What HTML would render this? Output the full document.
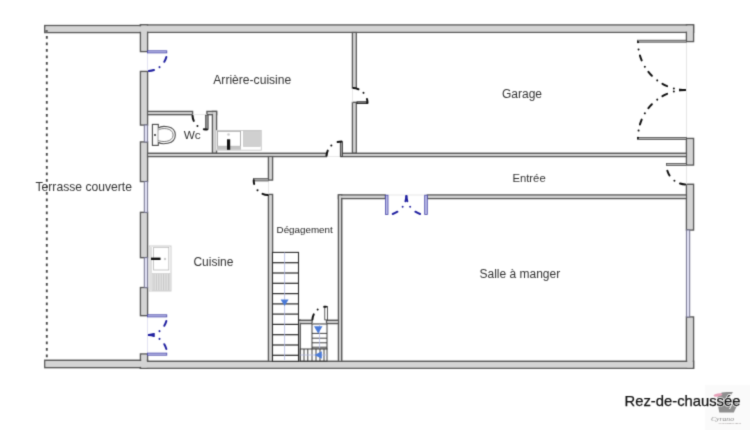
<!DOCTYPE html>
<html><head><meta charset="utf-8"><style>
html,body{margin:0;padding:0;background:#fff;width:750px;height:430px;overflow:hidden}
svg{display:block} text{will-change:transform}
</style></head><body>
<svg width="750" height="430" viewBox="0 0 750 430">
<defs><filter id="bl" filterUnits="userSpaceOnUse" x="0" y="0" width="750" height="430" color-interpolation-filters="sRGB"><feConvolveMatrix order="3" kernelMatrix="1 5 1 5 25 5 1 5 1" edgeMode="duplicate"/></filter></defs>
<g filter="url(#bl)">
<rect width="750" height="430" fill="#fff"/>
<g fill="#d4d4d4" stroke="#5a5a5a" stroke-width="1.5">
<rect x="44.80" y="25.60" width="102.70" height="6.90" fill="#d4d4d4"/>
<rect x="140.50" y="25.00" width="553.00" height="7.30" fill="#d4d4d4"/>
<rect x="686.50" y="25.00" width="7.00" height="16.50" fill="#d4d4d4"/>
<rect x="686.50" y="138.50" width="7.00" height="26.50" fill="#d4d4d4"/>
<rect x="686.50" y="184.30" width="7.00" height="45.70" fill="#d4d4d4"/>
<rect x="686.50" y="317.00" width="7.00" height="51.20" fill="#d4d4d4"/>
<rect x="140.50" y="25.00" width="7.00" height="26.50" fill="#d4d4d4"/>
<rect x="140.50" y="71.50" width="7.00" height="53.50" fill="#d4d4d4"/>
<rect x="140.50" y="142.00" width="7.00" height="39.50" fill="#d4d4d4"/>
<rect x="140.50" y="212.40" width="7.00" height="45.20" fill="#d4d4d4"/>
<rect x="140.50" y="287.60" width="7.00" height="28.00" fill="#d4d4d4"/>
<rect x="140.50" y="354.00" width="7.00" height="14.20" fill="#d4d4d4"/>
<rect x="44.80" y="360.30" width="102.70" height="7.30" fill="#d4d4d4"/>
<rect x="140.50" y="361.30" width="553.00" height="6.90" fill="#d4d4d4"/>
<rect x="352.50" y="32.30" width="3.70" height="55.70" fill="#d4d4d4"/>
<rect x="352.50" y="102.40" width="3.70" height="50.60" fill="#d4d4d4"/>
<rect x="147.50" y="153.30" width="178.90" height="3.20" fill="#d4d4d4"/>
<rect x="341.00" y="153.30" width="345.50" height="3.20" fill="#d4d4d4"/>
<rect x="147.50" y="111.50" width="45.00" height="3.10" fill="#d4d4d4"/>
<rect x="207.00" y="111.50" width="9.50" height="3.10" fill="#d4d4d4"/>
<rect x="212.50" y="111.50" width="4.00" height="41.50" fill="#d4d4d4"/>
<rect x="268.50" y="156.50" width="4.00" height="23.50" fill="#d4d4d4"/>
<rect x="268.50" y="194.50" width="4.00" height="166.80" fill="#d4d4d4"/>
<rect x="338.50" y="195.00" width="46.80" height="3.50" fill="#d4d4d4"/>
<rect x="427.30" y="195.00" width="259.20" height="3.50" fill="#d4d4d4"/>
<rect x="338.50" y="195.00" width="3.20" height="166.30" fill="#d4d4d4"/>
<rect x="296.50" y="320.30" width="15.50" height="3.20" fill="#d4d4d4"/>
<rect x="326.60" y="320.30" width="11.90" height="3.20" fill="#d4d4d4"/>
<rect x="296.50" y="320.30" width="3.70" height="41.00" fill="#d4d4d4"/>
</g>
<g fill="#d4d4d4">
<rect x="45.55" y="26.35" width="101.20" height="5.40" fill="#d4d4d4"/>
<rect x="141.25" y="25.75" width="551.50" height="5.80" fill="#d4d4d4"/>
<rect x="687.25" y="25.75" width="5.50" height="15.00" fill="#d4d4d4"/>
<rect x="687.25" y="139.25" width="5.50" height="25.00" fill="#d4d4d4"/>
<rect x="687.25" y="185.05" width="5.50" height="44.20" fill="#d4d4d4"/>
<rect x="687.25" y="317.75" width="5.50" height="49.70" fill="#d4d4d4"/>
<rect x="141.25" y="25.75" width="5.50" height="25.00" fill="#d4d4d4"/>
<rect x="141.25" y="72.25" width="5.50" height="52.00" fill="#d4d4d4"/>
<rect x="141.25" y="142.75" width="5.50" height="38.00" fill="#d4d4d4"/>
<rect x="141.25" y="213.15" width="5.50" height="43.70" fill="#d4d4d4"/>
<rect x="141.25" y="288.35" width="5.50" height="26.50" fill="#d4d4d4"/>
<rect x="141.25" y="354.75" width="5.50" height="12.70" fill="#d4d4d4"/>
<rect x="45.55" y="361.05" width="101.20" height="5.80" fill="#d4d4d4"/>
<rect x="141.25" y="362.05" width="551.50" height="5.40" fill="#d4d4d4"/>
<rect x="353.25" y="33.05" width="2.20" height="54.20" fill="#d4d4d4"/>
<rect x="353.25" y="103.15" width="2.20" height="49.10" fill="#d4d4d4"/>
<rect x="148.25" y="154.05" width="177.40" height="1.70" fill="#d4d4d4"/>
<rect x="341.75" y="154.05" width="344.00" height="1.70" fill="#d4d4d4"/>
<rect x="148.25" y="112.25" width="43.50" height="1.60" fill="#d4d4d4"/>
<rect x="207.75" y="112.25" width="8.00" height="1.60" fill="#d4d4d4"/>
<rect x="213.25" y="112.25" width="2.50" height="40.00" fill="#d4d4d4"/>
<rect x="269.25" y="157.25" width="2.50" height="22.00" fill="#d4d4d4"/>
<rect x="269.25" y="195.25" width="2.50" height="165.30" fill="#d4d4d4"/>
<rect x="339.25" y="195.75" width="45.30" height="2.00" fill="#d4d4d4"/>
<rect x="428.05" y="195.75" width="257.70" height="2.00" fill="#d4d4d4"/>
<rect x="339.25" y="195.75" width="1.70" height="164.80" fill="#d4d4d4"/>
<rect x="297.25" y="321.05" width="14.00" height="1.70" fill="#d4d4d4"/>
<rect x="327.35" y="321.05" width="10.40" height="1.70" fill="#d4d4d4"/>
<rect x="297.25" y="321.05" width="2.20" height="39.50" fill="#d4d4d4"/>
</g>
<line x1="46.8" y1="36.1" x2="46.8" y2="360" stroke="#4a4a4a" stroke-width="1.9" stroke-dasharray="2.7 3.8"/>
<rect x="45.3" y="30" width="2.4" height="3" fill="#666"/>
<rect x="144.30" y="125.00" width="3.30" height="17.00" fill="#e2e2f6" stroke="#74748e" stroke-width="1"/>
<rect x="144.30" y="181.50" width="3.30" height="30.90" fill="#e2e2f6" stroke="#74748e" stroke-width="1"/>
<rect x="144.30" y="257.60" width="3.30" height="30.00" fill="#e2e2f6" stroke="#74748e" stroke-width="1"/>
<rect x="686.40" y="230.00" width="3.30" height="87.00" fill="#e2e2f6" stroke="#74748e" stroke-width="1"/>
<line x1="147.5" y1="52" x2="147.5" y2="71" stroke="#dcdcf0" stroke-width="0.8"/>
<line x1="147.5" y1="315.6" x2="147.5" y2="354" stroke="#dcdcf0" stroke-width="0.8"/>
<line x1="686.5" y1="42" x2="686.5" y2="137.8" stroke="#e0e0e0" stroke-width="0.8"/>
<line x1="686.5" y1="165" x2="686.5" y2="184.3" stroke="#e0e0e0" stroke-width="0.8"/>
<line x1="268.5" y1="180" x2="268.5" y2="194.5" stroke="#e2e2e2" stroke-width="0.8"/>
<line x1="352.5" y1="88" x2="352.5" y2="102.4" stroke="#e2e2e2" stroke-width="0.8"/>
<line x1="326.4" y1="156.5" x2="341" y2="156.5" stroke="#e2e2e2" stroke-width="0.8"/>
<line x1="385.3" y1="195" x2="427.3" y2="195" stroke="#e2e2e2" stroke-width="0.8"/>
<line x1="192.5" y1="114.6" x2="207" y2="114.6" stroke="#e2e2e2" stroke-width="0.8"/>
<line x1="312" y1="323.5" x2="326.6" y2="323.5" stroke="#e2e2e2" stroke-width="0.8"/>
<rect x="147.50" y="50.80" width="19.30" height="2.10" fill="#bcbce8" stroke="#4848a8" stroke-width="0.8"/>
<path d="M148.00,71.00 A19,19 0 0 0 167.00,52.00" fill="none" stroke="#2020a0" stroke-width="2" stroke-linecap="round" stroke-dasharray="5.2 6.2 0.01 7.09" stroke-dashoffset="-0.9"/>
<rect x="147.50" y="314.80" width="19.30" height="2.10" fill="#bcbce8" stroke="#4848a8" stroke-width="0.8"/>
<path d="M148.00,335.00 A19,19 0 0 0 167.00,316.00" fill="none" stroke="#2020a0" stroke-width="2" stroke-linecap="round" stroke-dasharray="5.2 6.2 0.01 7.09" stroke-dashoffset="-0.9"/>
<rect x="147.50" y="353.10" width="19.30" height="2.10" fill="#bcbce8" stroke="#4848a8" stroke-width="0.8"/>
<path d="M148.00,335.00 A19,19 0 0 1 167.00,354.00" fill="none" stroke="#2020a0" stroke-width="2" stroke-linecap="round" stroke-dasharray="5.2 6.2 0.01 7.09" stroke-dashoffset="-0.9"/>
<rect x="385.40" y="195.20" width="2.60" height="19.20" fill="#bcbce8" stroke="#4848a8" stroke-width="0.8"/>
<path d="M406.40,195.20 A19.7,19.7 0 0 1 386.70,214.90" fill="none" stroke="#2020a0" stroke-width="2" stroke-linecap="round" stroke-dasharray="5.2 6.2 0.01 7.09" stroke-dashoffset="-0.9"/>
<rect x="424.70" y="195.20" width="2.60" height="19.20" fill="#bcbce8" stroke="#4848a8" stroke-width="0.8"/>
<path d="M406.40,195.20 A19.7,19.7 0 0 0 426.10,214.90" fill="none" stroke="#2020a0" stroke-width="2" stroke-linecap="round" stroke-dasharray="5.2 6.2 0.01 7.09" stroke-dashoffset="-0.9"/>
<rect x="357.00" y="101.80" width="10.00" height="1.80" fill="#8a8a8a" stroke="#111" stroke-width="0.8"/>
<path d="M352.50,88.00 A15,15 0 0 1 367.50,103.00" fill="none" stroke="#111" stroke-width="2" stroke-linecap="round" stroke-dasharray="5.2 6.2 0.01 7.09" stroke-dashoffset="-0.9"/>
<rect x="340.30" y="141.80" width="2.30" height="14.70" fill="#9c9c9c" stroke="#333" stroke-width="0.8"/>
<path d="M326.50,156.50 A15,15 0 0 1 341.50,141.50" fill="none" stroke="#111" stroke-width="2" stroke-linecap="round" stroke-dasharray="5.2 6.2 0.01 7.09" stroke-dashoffset="-0.9"/>
<rect x="637.50" y="40.20" width="49.00" height="2.00" fill="#b0b0b0" stroke="#505050" stroke-width="0.8"/>
<path d="M686.00,90.00 A48,48 0 0 1 638.00,42.00" fill="none" stroke="#111" stroke-width="2" stroke-linecap="round" stroke-dasharray="5.2 6.2 0.01 7.09" stroke-dashoffset="-0.9"/>
<rect x="637.50" y="137.50" width="49.00" height="2.00" fill="#b0b0b0" stroke="#505050" stroke-width="0.8"/>
<path d="M686.00,90.00 A48,48 0 0 0 638.00,138.00" fill="none" stroke="#111" stroke-width="2" stroke-linecap="round" stroke-dasharray="5.2 6.2 0.01 7.09" stroke-dashoffset="-0.9"/>
<rect x="666.50" y="163.40" width="20.00" height="2.00" fill="#b8b8b8" stroke="#505050" stroke-width="0.8"/>
<path d="M686.00,184.50 A19.5,19.5 0 0 1 666.50,165.00" fill="none" stroke="#111" stroke-width="2" stroke-linecap="round" stroke-dasharray="5.2 6.2 0.01 7.09" stroke-dashoffset="-0.9"/>
<rect x="253.60" y="178.40" width="14.90" height="2.60" fill="#a4a4a4" stroke="#505050" stroke-width="0.7"/>
<path d="M268.50,195.10 A14.8,14.8 0 0 1 253.70,180.30" fill="none" stroke="#111" stroke-width="2" stroke-linecap="round" stroke-dasharray="5.2 6.2 0.01 7.09" stroke-dashoffset="-0.9"/>
<rect x="205.60" y="115.20" width="2.60" height="14.30" fill="#8a8a8a" stroke="#444" stroke-width="0.7"/>
<path d="M192.50,115.00 A14.5,14.5 0 0 0 207.00,129.50" fill="none" stroke="#111" stroke-width="2" stroke-linecap="round" stroke-dasharray="5.2 6.2 0.01 7.09" stroke-dashoffset="-0.9"/>
<rect x="324.80" y="306.50" width="2.60" height="13.40" fill="#fff" stroke="#333" stroke-width="0.8"/>
<path d="M312.40,320.30 A13.6,13.6 0 0 1 326.00,306.70" fill="none" stroke="#111" stroke-width="2" stroke-linecap="round" stroke-dasharray="5.2 6.2 0.01 7.09" stroke-dashoffset="-0.9"/>
<rect x="152.40" y="124.40" width="5.90" height="21.00" fill="#fafafa" stroke="#4a4a4a" stroke-width="1.1"/>
<circle cx="155" cy="135" r="0.9" fill="#111"/>
<path d="M158.3,128.2 C161,125.6 175.3,124.8 175.3,135 C175.3,145.2 161,144.4 158.3,142.2" fill="#fff" stroke="#505050" stroke-width="1.1"/>
<path d="M158.3,130 C161,127.8 173.1,127.2 173.1,135 C173.1,142.8 161,142.2 158.3,140.4" fill="none" stroke="#707070" stroke-width="0.9"/>
<rect x="216.00" y="130.50" width="45.30" height="19.70" fill="#fff" stroke="#c8c8c8" stroke-width="0.9"/>
<rect x="217.50" y="131.30" width="23.00" height="15.00" fill="#fff" stroke="#a8a8a8" stroke-width="0.9"/>
<rect x="243.40" y="130.80" width="16.90" height="15.60" fill="#d0d0d0" stroke="#c0c0c0" stroke-width="0.6"/>
<circle cx="228.5" cy="134.5" r="1.3" fill="#ccc"/>
<rect x="217.00" y="146.50" width="24.00" height="3.30" fill="#c4c4c4"/>
<rect x="227.00" y="139.30" width="3.20" height="10.50" fill="#111"/>
<rect x="149.00" y="246.00" width="22.00" height="45.00" fill="#fff" stroke="#c8c8c8" stroke-width="0.9"/>
<rect x="153.60" y="247.30" width="15.20" height="22.70" fill="#fff" stroke="#b8b8b8" stroke-width="0.8"/>
<rect x="152.00" y="273.50" width="18.00" height="17.00" fill="#e2e2e2" stroke="#c8c8c8" stroke-width="0.6"/>
<line x1="154.0" y1="274" x2="154.0" y2="290" stroke="#bdbdbd" stroke-width="0.7"/>
<line x1="156.4" y1="274" x2="156.4" y2="290" stroke="#bdbdbd" stroke-width="0.7"/>
<line x1="158.8" y1="274" x2="158.8" y2="290" stroke="#bdbdbd" stroke-width="0.7"/>
<line x1="161.2" y1="274" x2="161.2" y2="290" stroke="#bdbdbd" stroke-width="0.7"/>
<line x1="163.6" y1="274" x2="163.6" y2="290" stroke="#bdbdbd" stroke-width="0.7"/>
<line x1="166.0" y1="274" x2="166.0" y2="290" stroke="#bdbdbd" stroke-width="0.7"/>
<line x1="168.4" y1="274" x2="168.4" y2="290" stroke="#bdbdbd" stroke-width="0.7"/>
<rect x="149.50" y="247.00" width="2.50" height="43.50" fill="#e0e0e0"/>
<rect x="151.00" y="257.60" width="9.50" height="2.40" fill="#111"/>
<circle cx="165" cy="259" r="1.2" fill="#ccc"/>
<rect x="272.50" y="252.40" width="26.00" height="108.90" fill="#fff" stroke="#2e2e2e" stroke-width="1.1"/>
<line x1="272.5" y1="262.7" x2="298.5" y2="262.7" stroke="#2e2e2e" stroke-width="1.25"/>
<line x1="272.5" y1="273.0" x2="298.5" y2="273.0" stroke="#2e2e2e" stroke-width="1.25"/>
<line x1="272.5" y1="283.3" x2="298.5" y2="283.3" stroke="#2e2e2e" stroke-width="1.25"/>
<line x1="272.5" y1="293.6" x2="298.5" y2="293.6" stroke="#2e2e2e" stroke-width="1.25"/>
<line x1="272.5" y1="303.9" x2="298.5" y2="303.9" stroke="#2e2e2e" stroke-width="1.25"/>
<line x1="272.5" y1="314.1" x2="298.5" y2="314.1" stroke="#2e2e2e" stroke-width="1.25"/>
<line x1="272.5" y1="324.4" x2="298.5" y2="324.4" stroke="#2e2e2e" stroke-width="1.25"/>
<line x1="272.5" y1="334.7" x2="298.5" y2="334.7" stroke="#2e2e2e" stroke-width="1.25"/>
<line x1="272.5" y1="345.0" x2="298.5" y2="345.0" stroke="#2e2e2e" stroke-width="1.25"/>
<line x1="272.5" y1="355.3" x2="298.5" y2="355.3" stroke="#2e2e2e" stroke-width="1.25"/>
<line x1="284.6" y1="252.4" x2="284.6" y2="360" stroke="#b0b8e4" stroke-width="0.8"/>
<path d="M280.6,299.6 L288.6,299.6 L284.6,306 Z" fill="#4a7ad8"/>
<rect x="312.00" y="324.00" width="15.00" height="25.00" fill="#fff" stroke="#2e2e2e" stroke-width="0.9"/>
<line x1="312" y1="333.4" x2="327" y2="333.4" stroke="#2e2e2e" stroke-width="0.9"/>
<line x1="312" y1="338.2" x2="327" y2="338.2" stroke="#2e2e2e" stroke-width="0.9"/>
<line x1="312" y1="342.8" x2="327" y2="342.8" stroke="#2e2e2e" stroke-width="0.9"/>
<line x1="312" y1="347.2" x2="327" y2="347.2" stroke="#2e2e2e" stroke-width="0.9"/>
<line x1="319.5" y1="324" x2="319.5" y2="349" stroke="#b0b8e4" stroke-width="0.7"/>
<path d="M314,326.3 L322.5,326.3 L318.2,333.6 Z" fill="#4a7ad8"/>
<rect x="300.30" y="349.00" width="26.70" height="12.00" fill="#fff" stroke="#2e2e2e" stroke-width="0.9"/>
<line x1="304" y1="349" x2="304" y2="361" stroke="#2e2e2e" stroke-width="0.9"/>
<line x1="307.8" y1="349" x2="307.8" y2="361" stroke="#2e2e2e" stroke-width="0.9"/>
<line x1="312" y1="349" x2="312" y2="361" stroke="#2e2e2e" stroke-width="0.9"/>
<line x1="316" y1="349" x2="316" y2="361" stroke="#2e2e2e" stroke-width="0.9"/>
<line x1="320" y1="349" x2="320" y2="361" stroke="#2e2e2e" stroke-width="0.9"/>
<line x1="324" y1="349" x2="324" y2="361" stroke="#2e2e2e" stroke-width="0.9"/>
<line x1="300.3" y1="355" x2="327" y2="355" stroke="#b0b8e4" stroke-width="0.7"/>
<path d="M314.5,355 L321.8,351.2 L321.8,358.8 Z" fill="#4a7ad8"/>
<g font-family="Liberation Sans, sans-serif">
<text x="213.3" y="84" font-size="12.1" fill="#333333" font-weight="normal">Arrière-cuisine</text>
<text x="502" y="98" font-size="12" fill="#333333" font-weight="normal">Garage</text>
<text x="512.4" y="182" font-size="11.3" fill="#333333" font-weight="normal">Entrée</text>
<text x="479.5" y="278" font-size="12" fill="#333333" font-weight="normal">Salle à manger</text>
<text x="35.5" y="191" font-size="12.15" fill="#333333" font-weight="normal">Terrasse couverte</text>
<text x="193.4" y="265.8" font-size="12" fill="#333333" font-weight="normal">Cuisine</text>
<text x="183.7" y="138.6" font-size="11.8" fill="#333333" font-weight="normal">Wc</text>
<text x="276.6" y="233.4" font-size="9.8" fill="#262626" font-weight="normal">Dégagement</text>
</g>
<rect x="705" y="385" width="45" height="45" fill="#fafafa"/>
<path d="M717.4,397 L721.8,392.4 L726.8,391.9 L733,392 L729.3,397.5 L735,400 L740,402 L740,404.6 L736.6,406.4 L733.8,412.5 L719.3,412.5 L717.8,404.5 Z" fill="#8e8e8e"/>
<ellipse cx="718" cy="394.9" rx="4.4" ry="1.5" transform="rotate(-10 718 394.9)" fill="#e6a0b8"/>
<path d="M730.5,395 Q733,401 731.5,405 Q730.5,407.5 729.5,409" fill="none" stroke="#fff" stroke-width="1"/>
<text x="711" y="420.6" font-family="Liberation Serif" font-style="italic" font-size="6.5" fill="#8a8a8a" textLength="23" lengthAdjust="spacingAndGlyphs">Cyrano</text>
<text x="718.5" y="423.7" font-family="Liberation Sans" font-size="2.4" fill="#a09a9a" textLength="22.7" lengthAdjust="spacingAndGlyphs">IMMOBILIER</text>
<g font-family="Liberation Sans, sans-serif">
<text x="624.5" y="406" font-size="14.8" fill="#fff" stroke="#fff" stroke-width="1.6">Rez-de-chaussée</text>
<text x="624.5" y="406" font-size="14.8" fill="#111" stroke="#111" stroke-width="0.25">Rez-de-chaussée</text>
</g>
</g>
</svg>
</body></html>
